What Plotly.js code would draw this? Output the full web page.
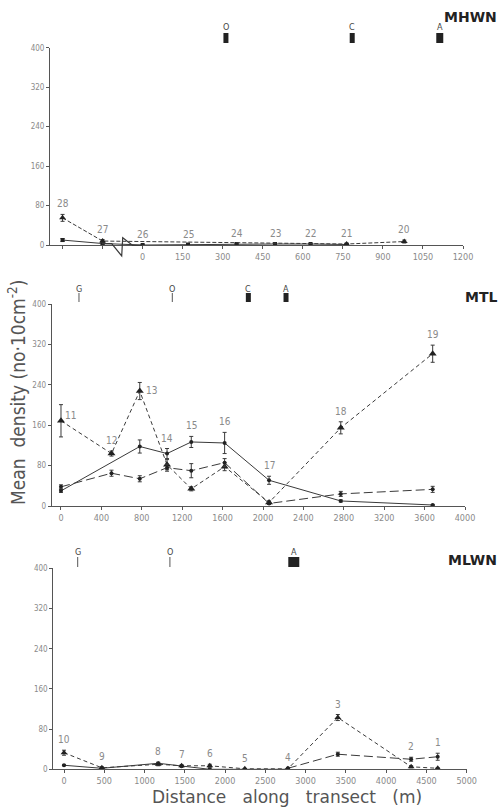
<!DOCTYPE html>
<html>
<head>
<meta charset="utf-8">
<script src="https://cdn.plot.ly/plotly-3.0.1.min.js"></script>
<style>html,body{margin:0;padding:0;background:#fff;}#chart{width:501px;height:810px;}</style>
</head>
<body>
<div id="chart"></div>
<script>
// ---------- DATA ----------
// MHWN panel (stations 28..20); 28 and 27 lie on the broken (left) part of the axis
const mhwnStations = ['28','27','26','25','24','23','22','21','20'];
const mhwnDist = [-300, -150, 0, 170, 352, 496, 629, 764, 980];
const mhwnSolid = [10, 3, 0, 1, 2, 2, 2, 1, null];
const mhwnSolidErr = [3, 2, 0, 0, 0, 0, 0, 0, 0];
const mhwnDashed = [55, 8, null, null, null, null, null, 2, 7];
const mhwnDashedErr = [7, 3, 0, 0, 0, 0, 0, 1, 3];
const mhwnTicks = [0, 150, 300, 450, 600, 750, 900, 1050, 1200];
const mhwnBrokenTicks = [-300, -150];
const mhwnZones = ['O', 'C', 'A'];
const mhwnZoneX = [312, 785, 1113];
const mhwnZoneKind = ['bar', 'bar', 'barA'];

// MTL panel (stations 11..19)
const mtlStations = ['11','12','13','14','15','16','17','18','19'];
const mtlDist = [0, 500, 780, 1050, 1290, 1620, 2060, 2770, 3680];
const mtlSolid = [30, null, 118, 104, 127, 125, 51, 10, 2];
const mtlSolidErr = [3, 0, 13, 10, 11, 21, 8, 2, 1];
const mtlDashed = [169, 104, 228, 82, 34, 78, 7, 155, 302];
const mtlDashedErr = [32, 5, 17, 10, 4, 8, 3, 12, 17];
const mtlDashDot = [38, 65, 54, 76, 70, 86, 5, 24, 33];
const mtlDashDotErr = [4, 6, 6, 7, 14, 8, 2, 5, 6];
const mtlTicks = [0, 400, 800, 1200, 1600, 2000, 2400, 2800, 3200, 3600, 4000];
const mtlZones = ['G', 'O', 'C', 'A'];
const mtlZoneX = [178, 1102, 1855, 2228];
const mtlZoneKind = ['stick', 'stick', 'bar', 'bar'];

// MLWN panel (stations 10..1)
const mlwnStations = ['10','9','8','7','6','5','4','3','2','1'];
const mlwnDist = [0, 470, 1170, 1460, 1810, 2245, 2780, 3400, 4310, 4640];
const mlwnSolid = [8, 2, 12, 6, 0, 0, 0, null, null, null];
const mlwnSolidErr = [1, 1, 2, 1, 0, 0, 0, 0, 0, 0];
const mlwnDashed = [33, 3, 10, 7, 7, 1, 1, 103, 5, 2];
const mlwnDashedErr = [5, 2, 3, 2, 3, 0, 1, 6, 2, 1];
const mlwnDashDot = [null, null, null, null, null, null, 2, 30, 20, 25];
const mlwnDashDotErr = [0, 0, 0, 0, 0, 0, 0, 4, 4, 7];
const mlwnTicks = [0, 500, 1000, 1500, 2000, 2500, 3000, 3500, 4000, 4500, 5000];
const mlwnZones = ['G', 'O', 'A'];
const mlwnZoneX = [170, 1315, 2853];
const mlwnZoneKind = ['stick', 'stick', 'square'];

// ---------- STYLE / LAYOUT ----------
const W = 501, H = 810;
const px = x => x / W;
const py = y => 1 - y / H;
const FONT = '"DejaVu Sans Condensed", "Liberation Sans Narrow", "DejaVu Sans", sans-serif';
const LINE = '#3a3a3a';
const TICKC = '#8a8a8a';

function trace(x, y, err, dash, symbol, size, ax) {
  return {
    type: 'scatter', mode: 'lines+markers', x: x, y: y,
    xaxis: 'x' + ax, yaxis: 'y' + ax, connectgaps: true,
    line: {color: LINE, width: 1, dash: dash},
    marker: {color: '#222', size: size, symbol: symbol},
    error_y: {type: 'data', array: err, visible: true, color: LINE, thickness: 1, width: 2},
    hoverinfo: 'skip', showlegend: false
  };
}

const traces = [
  trace(mhwnDist, mhwnSolid, mhwnSolidErr, 'solid', 'square', 4, ''),
  trace(mhwnDist, mhwnDashed, mhwnDashedErr, '4px,2px', 'triangle-up', 6, ''),
  trace(mtlDist, mtlSolid, mtlSolidErr, 'solid', 'circle', 4, '2'),
  trace(mtlDist, mtlDashed, mtlDashedErr, '4px,3px', 'triangle-up', 7, '2'),
  trace(mtlDist, mtlDashDot, mtlDashDotErr, '9px,4px', 'circle', 4, '2'),
  trace(mlwnDist, mlwnSolid, mlwnSolidErr, 'solid', 'circle', 4, '3'),
  trace(mlwnDist, mlwnDashed, mlwnDashedErr, '4px,3px', 'triangle-up', 6, '3'),
  trace(mlwnDist, mlwnDashDot, mlwnDashDotErr, '9px,4px', 'circle', 4, '3')
];

function xaxis(range, domain, ticks, anchor, extraTicks) {
  const ax = {
    range: range, domain: domain, anchor: anchor,
    tickmode: 'array', tickvals: ticks, ticktext: ticks.map(String),
    showline: true, linecolor: '#555', linewidth: 1, mirror: false,
    ticks: 'outside', ticklen: 3, tickcolor: '#555', tickwidth: 1,
    showgrid: false, zeroline: false,
    tickfont: {family: FONT, size: 9, color: TICKC}, automargin: false, fixedrange: true
  };
  if (extraTicks) {
    ax.minor = {tickmode: 'array', tickvals: extraTicks, ticks: 'outside', ticklen: 3, tickcolor: '#555', tickwidth: 1, showgrid: false};
  }
  return ax;
}
function yaxis(domain, anchor) {
  return {
    range: [0, 400], domain: domain, anchor: anchor,
    tickmode: 'array', tickvals: [0, 80, 160, 240, 320, 400],
    showline: true, linecolor: '#555', linewidth: 1,
    ticks: 'outside', ticklen: 3, tickcolor: '#555', tickwidth: 1,
    showgrid: false, zeroline: false,
    tickfont: {family: FONT, size: 8, color: TICKC}, automargin: false, fixedrange: true
  };
}

const annotations = [];
const shapes = [];

function stationLabels(stations, dist, seriesList, errList, ax, overrides) {
  stations.forEach((s, i) => {
    let top = 0;
    seriesList.forEach((ser, k) => {
      if (ser[i] !== null && ser[i] !== undefined) top = Math.max(top, ser[i] + (errList[k][i] || 0));
    });
    const o = (overrides && overrides[s]) || {};
    annotations.push({
      xref: 'x' + ax, yref: 'y' + ax, x: dist[i], y: top, text: s, showarrow: false,
      yanchor: o.yanchor || 'bottom', xanchor: o.xanchor || 'center',
      xshift: o.xshift || 0, yshift: (o.yshift !== undefined ? o.yshift : 3),
      font: {family: FONT, size: 10, color: '#8a8a8a'}
    });
  });
}
stationLabels(mhwnStations, mhwnDist, [mhwnSolid, mhwnDashed], [mhwnSolidErr, mhwnDashedErr], '');
stationLabels(mtlStations, mtlDist, [mtlSolid, mtlDashed, mtlDashDot], [mtlSolidErr, mtlDashedErr, mtlDashDotErr], '2',
  {'11': {xanchor: 'left', yanchor: 'middle', xshift: 2, yshift: -11},
   '13': {xanchor: 'left', yanchor: 'middle', xshift: 4, yshift: -8}});
stationLabels(mlwnStations, mlwnDist, [mlwnSolid, mlwnDashed, mlwnDashDot], [mlwnSolidErr, mlwnDashedErr, mlwnDashDotErr], '3');

function zones(names, xs, kinds, ax, letterY, top, bottom) {
  names.forEach((n, i) => {
    annotations.push({
      xref: 'x' + ax, yref: 'paper', x: xs[i], y: py(letterY), text: n, showarrow: false,
      xanchor: 'center', yanchor: 'middle', font: {family: FONT, size: 9, color: '#444'}
    });
    const k = kinds[i];
    if (k === 'stick') {
      shapes.push({type: 'line', xref: 'x' + ax, yref: 'paper', x0: xs[i], x1: xs[i],
        y0: py(bottom), y1: py(top), line: {color: '#555', width: 1}});
    } else {
      const hw = k === 'square' ? 5.5 : (k === 'barA' ? 3.5 : 2.5);
      shapes.push({type: 'rect', xref: 'x' + ax, yref: 'paper', xsizemode: 'pixel', xanchor: xs[i],
        x0: -hw, x1: hw, y0: py(bottom), y1: py(top), line: {width: 0}, fillcolor: '#222'});
    }
  });
}
zones(mhwnZones, mhwnZoneX, mhwnZoneKind, '', 26.5, 33, 43);
zones(mtlZones, mtlZoneX, mtlZoneKind, '2', 288.5, 293, 302);
zones(mlwnZones, mlwnZoneX, mlwnZoneKind, '3', 551.5, 557, 567);

// axis-break zigzag on MHWN x axis (decoration)
shapes.push({type: 'path', xref: 'paper', yref: 'paper',
  path: 'M ' + px(102) + ',' + py(243.6) + ' L ' + px(111.7) + ',' + py(243.6) + ' L ' + px(121.7) + ',' + py(256) +
        ' L ' + px(122.7) + ',' + py(237.7) + ' L ' + px(132.7) + ',' + py(245.4) + ' L ' + px(142.7) + ',' + py(245.4),
  line: {color: LINE, width: 1.2}});

// panel labels
[['MHWN', 17], ['MTL', 297], ['MLWN', 560]].forEach(p => {
  annotations.push({xref: 'paper', yref: 'paper', x: px(499), y: py(p[1]), text: p[0], showarrow: false,
    xanchor: 'right', yanchor: 'middle', font: {family: '"DejaVu Sans", sans-serif', size: 14, color: '#222', weight: 'bold'}});
});

// axis titles
annotations.push({xref: 'paper', yref: 'paper', x: px(17), y: py(393), text: 'Mean\u00a0\u00a0density (no\u00b710cm<sup>-2</sup>)',
  textangle: -90, showarrow: false, xanchor: 'center', yanchor: 'middle',
  font: {family: FONT, size: 19, color: '#555'}});
annotations.push({xref: 'paper', yref: 'paper', x: px(287), y: py(797), text: 'Distance\u00a0\u00a0 along\u00a0\u00a0 transect\u00a0\u00a0 (m)',
  showarrow: false, xanchor: 'center', yanchor: 'middle',
  font: {family: '"DejaVu Sans", sans-serif', size: 17, color: '#555'}});

const layout = {
  width: W, height: H, margin: {l: 0, r: 0, t: 0, b: 0},
  paper_bgcolor: '#fff', plot_bgcolor: 'rgba(0,0,0,0)', showlegend: false,
  xaxis: xaxis([-347, 1200], [px(50), px(463)], mhwnTicks, 'y', mhwnBrokenTicks),
  yaxis: yaxis([py(245), py(47.7)], 'x'),
  xaxis2: xaxis([-92, 4000], [px(51.7), px(465)], mtlTicks, 'y2'),
  yaxis2: yaxis([py(506), py(304.3)], 'x2'),
  xaxis3: xaxis([-133, 5000], [px(53.3), px(466.7)], mlwnTicks, 'y3'),
  yaxis3: yaxis([py(769.3), py(568.3)], 'x3'),
  annotations: annotations, shapes: shapes
};

Plotly.newPlot('chart', traces, layout, {displayModeBar: false, staticPlot: true});
</script>
</body>
</html>
